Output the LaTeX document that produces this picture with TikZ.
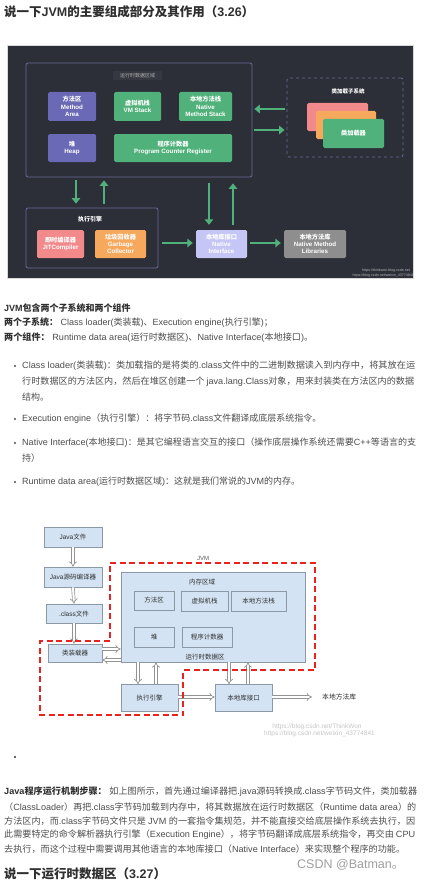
\documentclass[tikz,border=0pt]{standalone}
\usepackage{fontspec}
\usepackage{graphicx}
\setmainfont{Liberation Sans}
\newfontfamily\cjk{Noto Sans CJK SC}
\usetikzlibrary{arrows.meta}
\XeTeXinterchartokenstate=1
\newXeTeXintercharclass\CJKcls
\makeatletter
\def\setcjkrange#1#2{\count@=#1\relax\loop\XeTeXcharclass\count@=\CJKcls\relax\ifnum\count@<#2\advance\count@ by 1\repeat}
\setcjkrange{"4E00}{"9FFF}
\setcjkrange{"3000}{"303F}
\setcjkrange{"FF00}{"FFEF}
\makeatother
\XeTeXinterchartoks 0 \CJKcls = {\cjk}
\XeTeXinterchartoks 4095 \CJKcls = {\cjk}
\XeTeXinterchartoks \CJKcls 0 = {\rmfamily}
\XeTeXinterchartoks 4095 0 = {\rmfamily}
\newsavebox\linebox
\newcommand\fitw[2]{\sbox\linebox{#2}\pgfmathsetmacro\fitfac{#1/\wd\linebox}\scalebox{\fitfac}[1]{\usebox\linebox}}
\definecolor{dbg}{HTML}{2C2E38}
\definecolor{rtline}{HTML}{6A6A98}
\definecolor{pur}{HTML}{6A69B6}
\definecolor{grn}{HTML}{50B27A}
\definecolor{pnk}{HTML}{F28A8C}
\definecolor{org}{HTML}{F6A95C}
\definecolor{lav}{HTML}{C6C6F6}
\definecolor{gry}{HTML}{8E8E8E}
\definecolor{lblue}{HTML}{D3E3F3}
\definecolor{bline}{HTML}{8C98A6}
\definecolor{jred}{HTML}{E8231F}
\definecolor{txt}{HTML}{4D4D4D}
\definecolor{hd}{HTML}{2F2F2F}
\tikzset{
  dbox/.style={rounded corners=1.5pt, text=white, font=\fontsize{6.2}{7.3}\selectfont\bfseries, align=center, inner sep=0pt},
  garrow/.style={draw=grn, line width=2.8pt, -{Triangle[length=5.5pt,width=8.5pt]}},
  lbox/.style={fill=lblue, draw=bline, line width=0.6pt, text=hd, font=\fontsize{6.5}{8}\selectfont, inner sep=0pt},
  hol/.style={draw=gray!85, double=white, double distance=2pt, line width=0.7pt, -{Implies}},
  tl/.style={anchor=west, inner sep=0pt, text=txt, font=\fontsize{9}{11}\selectfont},
  lbl/.style={inner sep=0pt}
}
\begin{document}
\begin{tikzpicture}[x=1pt,y=-1pt]
\useasboundingbox[fill=white] (0,0) rectangle (424,880);
% title
\node[anchor=west, inner sep=0pt, text=hd, font=\fontsize{12.5}{14}\selectfont\bfseries] (title) at (4,12) {说一下JVM的主要组成部分及其作用（3.26）};
% ===== dark diagram =====
\node[fill=dbg, draw=gray!30, line width=0.8pt, minimum width=406, minimum height=233, inner sep=0pt] (dark) at (210,161.5) {};
\node[draw=rtline, line width=0.8pt, rounded corners=2pt, minimum width=226, minimum height=114, inner sep=0pt] (rt) at (139,120) {};
\node[fill=gray!12!dbg, text=gray!60!white, font=\fontsize{5}{6}\selectfont, minimum width=49, minimum height=9, inner sep=0pt] (rtl) at (137.5,75.5) {运行时数据区域};
\node[dbox, fill=pur, minimum width=48, minimum height=29] (ma) at (72,106.5) {方法区\\Method\\Area};
\node[dbox, fill=grn, minimum width=47, minimum height=29] (vms) at (137.5,106.5) {虚拟机栈\\VM Stack};
\node[dbox, fill=grn, minimum width=53, minimum height=29] (nms) at (205.5,106.5) {本地方法栈\\Native\\Method Stack};
\node[dbox, fill=pur, minimum width=48, minimum height=28] (heap) at (72,148) {堆\\Heap};
\node[dbox, fill=grn, minimum width=118, minimum height=28] (pcr) at (173,148) {程序计数器\\Program Counter Register};
\node[draw=rtline, dashed, line width=0.8pt, rounded corners=2pt, minimum width=116, minimum height=79, inner sep=0pt] (loader) at (345,117.5) {};
\node[lbl, text=white, font=\fontsize{5.5}{6}\selectfont\bfseries] (loaderl) at (348,91) {类加载子系统};
\node[dbox, fill=pnk, minimum width=61, minimum height=28] (c1) at (337.5,117) {};
\node[dbox, fill=org, minimum width=60, minimum height=28] (c2) at (346,125) {};
\node[dbox, fill=grn, minimum width=61, minimum height=29] (c3) at (353.5,133.5) {类加载器};
\node[draw=rtline, line width=0.8pt, rounded corners=2pt, minimum width=132, minimum height=60, inner sep=0pt] (ee) at (92,238) {};
\node[lbl, text=white, font=\fontsize{6}{7}\selectfont\bfseries] (eel) at (90,219) {执行引擎};
\node[dbox, fill=pnk, minimum width=47, minimum height=28] (jit) at (60.5,244) {即时编译器\\JITCompiler};
\node[dbox, fill=org, minimum width=51, minimum height=28] (gc) at (120.5,244) {垃圾回收器\\Garbage\\Collector};
\node[dbox, fill=lav, minimum width=51, minimum height=28] (ni) at (221.5,244) {本地库接口\\Native\\Interface};
\node[dbox, fill=gry, minimum width=62, minimum height=28] (libs) at (315,244) {本地方法库\\Native Method\\Libraries};
\draw[garrow, shorten <=2pt, shorten >=2pt] (loader.west |- 0,109) -- (rt.east |- 0,109);
\draw[garrow, shorten <=2pt, shorten >=2pt] (rt.east |- 0,130) -- (loader.west |- 0,130);
\draw[garrow, shorten <=3pt, shorten >=4pt] (rt.south -| 76,0) -- (ee.north -| 76,0);
\draw[garrow, shorten <=4pt, shorten >=3pt] (ee.north -| 104,0) -- (rt.south -| 104,0);
\draw[garrow, shorten <=6pt, shorten >=5pt] (rt.south -| 209,0) -- (ni.north -| 209,0);
\draw[garrow, shorten <=5pt, shorten >=6pt] (ni.north -| 233,0) -- (rt.south -| 233,0);
\draw[garrow, shorten <=4pt, shorten >=3pt] (ee.east |- 0,243) -- (ni.west |- 0,243);
\draw[garrow, shorten <=3pt, shorten >=3pt] (ni.east |- 0,243) -- (libs.west |- 0,243);
\node[lbl, anchor=east, text=gray!55, font=\fontsize{3.6}{4}\selectfont] (wm1) at (410,271) {https://thinkwon.blog.csdn.net};
\node[lbl, anchor=east, text=gray!55, font=\fontsize{3.6}{4}\selectfont] (wm2) at (414,276) {https://blog.csdn.net/weixin\_43774841};
% ===== text section =====
\node[tl, text=hd, font=\fontsize{9}{11}\selectfont\bfseries] (t1) at (4,308) {JVM包含两个子系统和两个组件};
\node[tl] (t2) at (4,323) {{\bfseries\color{hd}两个子系统：} Class loader(类装载)、Execution engine(执行引擎)；};
\node[tl] (t3) at (4,338) {\fitw{309}{{\bfseries\color{hd}两个组件：} Runtime data area(运行时数据区)、Native Interface(本地接口)。}};
\fill[txt] (15,366) circle (1.1);
\node[tl] (b1a) at (22,366) {\fitw{393}{Class loader(类装载)：类加载指的是将类的.class文件中的二进制数据读入到内存中，将其放在运}};
\node[tl] (b1b) at (22,382) {\fitw{392}{行时数据区的方法区内，然后在堆区创建一个 java.lang.Class对象，用来封装类在方法区内的数据}};
\node[tl] (b1c) at (22,397) {结构。};
\fill[txt] (15,419) circle (1.1);
\node[tl] (b2) at (22,419) {Execution engine（执行引擎）：将字节码.class文件翻译成底层系统指令。};
\fill[txt] (15,443) circle (1.1);
\node[tl] (b3a) at (22,443) {\fitw{394}{Native Interface(本地接口)：是其它编程语言交互的接口（操作底层操作系统还需要C++等语言的支}};
\node[tl] (b3b) at (22,458) {持）};
\fill[txt] (15,482) circle (1.1);
\node[tl] (b4) at (22,482) {Runtime data area(运行时数据区域)：这就是我们常说的JVM的内存。};
% ===== second diagram =====
\node[lbox, minimum width=58, minimum height=20] (jf) at (73,537) {Java文件};
\node[lbox, minimum width=58, minimum height=20] (jc) at (73,577) {Java源码编译器};
\node[lbox, minimum width=56, minimum height=19] (cf) at (74,613.5) {.class文件};
\node[lbox, minimum width=54, minimum height=18] (cl) at (75,653) {类装载器};
\node[lbox, minimum width=184, minimum height=90] (mem) at (213,617) {};
\node[lbl, text=hd, font=\fontsize{6.5}{8}\selectfont] (meml) at (202,582) {内存区域};
\node[lbl, text=hd, font=\fontsize{6.5}{8}\selectfont] (rtal) at (205,657) {运行时数据区};
\node[lbox, minimum width=40, minimum height=19] (ma2) at (154,600.5) {方法区};
\node[lbox, minimum width=47, minimum height=20] (vm2) at (204.5,601) {虚拟机栈};
\node[lbox, minimum width=55, minimum height=20] (nm2) at (258.5,601) {本地方法栈};
\node[lbox, minimum width=40, minimum height=20] (hp2) at (154,637) {堆};
\node[lbox, minimum width=50, minimum height=20] (pc2) at (207,637) {程序计数器};
\node[lbox, minimum width=57, minimum height=27] (ee2) at (149.5,698) {执行引擎};
\node[lbox, minimum width=57, minimum height=27] (ni2) at (243.5,698) {本地库接口};
\node[lbl, anchor=west, text=hd, font=\fontsize{6.8}{8}\selectfont] (lib2) at (322,697) {本地方法库};
\node[lbl, text=gray!70!black, font=\fontsize{6}{7}\selectfont] (jvml) at (203,558) {JVM};
\draw[hol] (jf.south) -- (jc.north);
\draw[hol] (jc.south) -- (cf.north);
\draw[hol] (cf.south) -- (cl.north -| cf.south);
\draw[hol] (cl.east |- 0,649) -- (mem.west |- 0,649);
\draw[hol] (mem.west |- 0,660) -- (cl.east |- 0,660);
\draw[hol] (mem.south -| 138,0) -- (ee2.north -| 138,0);
\draw[hol] (ee2.north -| 156,0) -- (mem.south -| 156,0);
\draw[hol] (ee2.east |- 0,697) -- (ni2.west |- 0,697);
\draw[hol] (mem.south -| 229,0) -- (ni2.north -| 229,0);
\draw[hol] (ni2.north -| 248,0) -- (mem.south -| 248,0);
\draw[hol, shorten >=10pt] (ni2.east |- 0,697) -- (lib2.west |- 0,697);
\draw[jred, line width=1.8pt, dash pattern=on 6pt off 3.5pt] (110,563) -- (315,563) -- (315,670) -- (183,670) -- (183,715) -- (40,715) -- (40,641) -- (110,641) -- cycle;
\node[lbl, text=gray!45, font=\fontsize{6.5}{7}\selectfont] (wm3) at (317,727) {https://blog.csdn.net/ThinkWon};
\node[lbl, text=gray!45, font=\fontsize{6.5}{7}\selectfont] (wm4) at (319.5,734) {https://blog.csdn.net/weixin\_43774841};
% ===== bottom text =====
\fill[hd] (15,757) circle (1.1);
\node[tl] (p1) at (4,792) {\fitw{413}{{\bfseries\color{hd}Java程序运行机制步骤：} 如上图所示，首先通过编译器把.java源码转换成.class字节码文件，类加载器}};
\node[tl] (p2) at (4,807) {\fitw{412}{（ClassLoader）再把.class字节码加载到内存中，将其数据放在运行时数据区（Runtime data area）的}};
\node[tl] (p3) at (4,821) {\fitw{411}{方法区内，而.class字节码文件只是 JVM 的一套指令集规范，并不能直接交给底层操作系统去执行，因}};
\node[tl] (p4) at (4,835) {\fitw{411}{此需要特定的命令解析器执行引擎（Execution Engine），将字节码翻译成底层系统指令，再交由 CPU}};
\node[tl] (p5) at (4,849) {\fitw{401}{去执行，而这个过程中需要调用其他语言的本地库接口（Native Interface）来实现整个程序的功能。}};
\node[lbl, anchor=west, text=gray!75, font=\fontsize{12.5}{14}\selectfont] (csdn) at (297,865) {CSDN @Batman。};
\node[anchor=south west, inner sep=0pt, text=hd, font=\fontsize{12.5}{14}\selectfont\bfseries] (title2) at (4,880) {说一下运行时数据区（3.27）};
\end{tikzpicture}
\end{document}
